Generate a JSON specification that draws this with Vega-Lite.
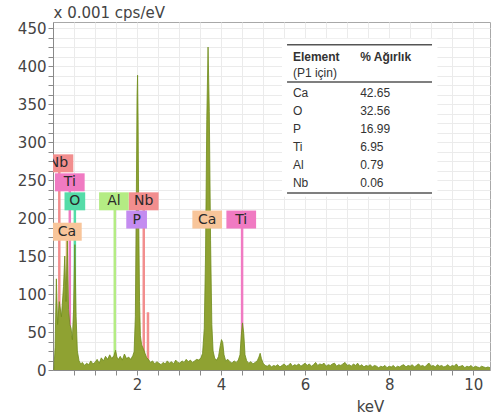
{
  "$schema": "https://vega.github.io/schema/vega-lite/v6.json",
  "width": 437,
  "height": 348,
  "autosize": "none",
  "padding": {"left": 53, "top": 22, "right": 5, "bottom": 49},
  "background": "white",
  "config": {
    "view": {"stroke": "#a8a8a8"},
    "font": "DejaVu Sans",
    "axis": {"labelOverlap": false, "labelFlush": false, "grid": true, "gridColor": "#ebebeb", "gridWidth": 1,
      "domainColor": "#8a8a8a", "tickColor": "#8a8a8a", "tickSize": 5,
      "labelFontSize": 15, "labelColor": "#444", "labelPadding": 2,
      "titleFontSize": 15, "titleFontWeight": "normal", "titleColor": "#444"}
  },
  "datasets": {
    "spectrum": [
      {"e":0.02,"c":0},{"e":0.05,"c":30},{"e":0.08,"c":120},{"e":0.11,"c":60},{"e":0.15,"c":90},{"e":0.2,"c":70},{"e":0.25,"c":110},{"e":0.28,"c":150},{"e":0.31,"c":90},{"e":0.34,"c":170},{"e":0.37,"c":80},{"e":0.4,"c":60},{"e":0.43,"c":55},{"e":0.46,"c":40},{"e":0.49,"c":80},{"e":0.52,"c":165},{"e":0.55,"c":70},{"e":0.58,"c":25},{"e":0.62,"c":12},{"e":0.66,"c":8},{"e":0.7,"c":10},{"e":0.75,"c":6},{"e":0.8,"c":9},{"e":0.85,"c":7},{"e":0.9,"c":12},{"e":0.95,"c":8},
      {"e":1.0,"c":10},{"e":1.05,"c":14},{"e":1.1,"c":9},{"e":1.15,"c":16},{"e":1.2,"c":12},{"e":1.25,"c":18},{"e":1.3,"c":14},{"e":1.35,"c":20},{"e":1.4,"c":15},{"e":1.45,"c":19},{"e":1.49,"c":26},{"e":1.52,"c":17},{"e":1.56,"c":14},{"e":1.6,"c":18},{"e":1.65,"c":13},{"e":1.7,"c":21},{"e":1.75,"c":15},{"e":1.8,"c":17},{"e":1.85,"c":14},{"e":1.9,"c":19},{"e":1.93,"c":24},{"e":1.96,"c":70},{"e":1.98,"c":200},{"e":2.0,"c":360},{"e":2.013,"c":388},{"e":2.025,"c":330},{"e":2.04,"c":200},{"e":2.06,"c":90},{"e":2.08,"c":45},{"e":2.11,"c":33},{"e":2.15,"c":28},{"e":2.19,"c":22},{"e":2.23,"c":16},{"e":2.27,"c":14},{"e":2.32,"c":10},{"e":2.37,"c":12},{"e":2.42,"c":8},{"e":2.47,"c":11},{"e":2.52,"c":9},{"e":2.57,"c":7},{"e":2.62,"c":10},{"e":2.67,"c":8},{"e":2.72,"c":12},{"e":2.77,"c":9},{"e":2.82,"c":11},{"e":2.87,"c":8},{"e":2.92,"c":13},{"e":2.97,"c":10},
      {"e":3.02,"c":9},{"e":3.07,"c":12},{"e":3.12,"c":10},{"e":3.17,"c":14},{"e":3.22,"c":11},{"e":3.27,"c":13},{"e":3.32,"c":10},{"e":3.37,"c":12},{"e":3.42,"c":14},{"e":3.47,"c":13},{"e":3.52,"c":16},{"e":3.56,"c":22},{"e":3.6,"c":55},{"e":3.63,"c":150},{"e":3.66,"c":330},{"e":3.69,"c":425},{"e":3.72,"c":340},{"e":3.75,"c":170},{"e":3.78,"c":60},{"e":3.81,"c":25},{"e":3.85,"c":15},{"e":3.9,"c":13},{"e":3.94,"c":18},{"e":3.98,"c":32},{"e":4.01,"c":40},{"e":4.04,"c":36},{"e":4.07,"c":20},{"e":4.11,"c":12},{"e":4.16,"c":14},{"e":4.21,"c":11},{"e":4.26,"c":9},{"e":4.31,"c":12},{"e":4.36,"c":10},{"e":4.41,"c":13},{"e":4.45,"c":20},{"e":4.48,"c":45},{"e":4.51,"c":62},{"e":4.54,"c":48},{"e":4.57,"c":20},{"e":4.61,"c":12},{"e":4.66,"c":9},{"e":4.71,"c":11},{"e":4.76,"c":8},{"e":4.81,"c":10},{"e":4.86,"c":12},{"e":4.9,"c":17},{"e":4.93,"c":22},{"e":4.96,"c":15},
      {"e":5.0,"c":9},{"e":5.05,"c":6},{"e":5.1,"c":5},{"e":5.15,"c":7},{"e":5.2,"c":4},{"e":5.25,"c":6},{"e":5.3,"c":5},{"e":5.35,"c":7},{"e":5.4,"c":4},{"e":5.45,"c":6},{"e":5.5,"c":8},{"e":5.55,"c":5},{"e":5.6,"c":6},{"e":5.65,"c":9},{"e":5.7,"c":5},{"e":5.75,"c":7},{"e":5.8,"c":6},{"e":5.85,"c":8},{"e":5.9,"c":5},{"e":5.95,"c":7},
      {"e":6.0,"c":9},{"e":6.05,"c":6},{"e":6.1,"c":8},{"e":6.15,"c":5},{"e":6.2,"c":7},{"e":6.25,"c":10},{"e":6.3,"c":6},{"e":6.35,"c":8},{"e":6.4,"c":7},{"e":6.45,"c":9},{"e":6.5,"c":5},{"e":6.55,"c":7},{"e":6.6,"c":6},{"e":6.65,"c":8},{"e":6.7,"c":9},{"e":6.75,"c":5},{"e":6.8,"c":7},{"e":6.85,"c":6},{"e":6.9,"c":8},{"e":6.95,"c":10},
      {"e":7.0,"c":6},{"e":7.05,"c":7},{"e":7.1,"c":5},{"e":7.15,"c":8},{"e":7.2,"c":6},{"e":7.25,"c":9},{"e":7.3,"c":5},{"e":7.35,"c":7},{"e":7.4,"c":4},{"e":7.45,"c":6},{"e":7.5,"c":5},{"e":7.55,"c":7},{"e":7.6,"c":4},{"e":7.65,"c":6},{"e":7.7,"c":5},{"e":7.75,"c":3},{"e":7.8,"c":5},{"e":7.85,"c":4},{"e":7.9,"c":6},{"e":7.95,"c":3},
      {"e":8.0,"c":5},{"e":8.05,"c":4},{"e":8.1,"c":6},{"e":8.15,"c":3},{"e":8.2,"c":5},{"e":8.25,"c":4},{"e":8.3,"c":6},{"e":8.35,"c":7},{"e":8.4,"c":4},{"e":8.45,"c":6},{"e":8.5,"c":5},{"e":8.55,"c":7},{"e":8.6,"c":4},{"e":8.65,"c":6},{"e":8.7,"c":8},{"e":8.75,"c":5},{"e":8.8,"c":6},{"e":8.85,"c":4},{"e":8.9,"c":7},{"e":8.95,"c":9},
      {"e":9.0,"c":5},{"e":9.05,"c":6},{"e":9.1,"c":4},{"e":9.15,"c":7},{"e":9.2,"c":5},{"e":9.25,"c":6},{"e":9.3,"c":4},{"e":9.35,"c":5},{"e":9.4,"c":7},{"e":9.45,"c":4},{"e":9.5,"c":6},{"e":9.55,"c":5},{"e":9.6,"c":8},{"e":9.65,"c":4},{"e":9.7,"c":5},{"e":9.75,"c":6},{"e":9.8,"c":3},{"e":9.85,"c":5},{"e":9.9,"c":4},{"e":9.95,"c":6},
      {"e":10.0,"c":3},{"e":10.05,"c":5},{"e":10.1,"c":4},{"e":10.15,"c":3},{"e":10.2,"c":5},{"e":10.25,"c":4},{"e":10.3,"c":3},{"e":10.35,"c":4},{"e":10.4,"c":3}
    ],
    "lines": [
      {"el":"Nb","e":0.15,"top":272},
      {"el":"Ti","e":0.4,"top":247},
      {"el":"O","e":0.52,"top":222},
      {"el":"Ca","e":0.33,"top":182},
      {"el":"Al","e":1.47,"top":222},
      {"el":"Nb","e":2.16,"top":222},
      {"el":"P","e":2.0,"top":198},
      {"el":"Ca","e":3.67,"top":198},
      {"el":"Ti","e":4.5,"top":198},
      {"el":"Nb","e":2.26,"top":76}
    ],
    "labels": [
      {"el":"Nb","e":0.13,"v":272},
      {"el":"Ti","e":0.4,"v":247},
      {"el":"O","e":0.52,"v":222},
      {"el":"Al","e":1.45,"v":222},
      {"el":"Nb","e":2.16,"v":222},
      {"el":"P","e":1.99,"v":198},
      {"el":"Ca","e":0.33,"v":182},
      {"el":"Ca","e":3.67,"v":198},
      {"el":"Ti","e":4.48,"v":198}
    ],
    "table": [
      {"Element":"Ca","pct":"42.65"},
      {"Element":"O","pct":"32.56"},
      {"Element":"P","pct":"16.99"},
      {"Element":"Ti","pct":"6.95"},
      {"Element":"Al","pct":"0.79"},
      {"Element":"Nb","pct":"0.06"}
    ],
    "one": [{}]
  },
  "layer": [
    {
      "layer": [
        {
          "data": {"name": "lines"},
          "mark": {"type": "rule", "strokeWidth": 2.5, "clip": true},
          "encoding": {
            "x": {"field": "e", "type": "quantitative", "scale": {"domain": [0, 10.4], "nice": false, "zero": false},
              "axis": {
                "values": [0.5,1,1.5,2,2.5,3,3.5,4,4.5,5,5.5,6,6.5,7,7.5,8,8.5,9,9.5,10],
                "tickCount": 100,
                "format": "~g",
                "labelExpr": "datum.value % 2 === 0 ? datum.label : ''",
                "title": "keV",
                "titleX": 317, "titleY": 36, "titleAlign": "center", "titleBaseline": "middle"
              }},
            "y": {"field": "top", "type": "quantitative", "scale": {"domain": [0, 458], "nice": false},
              "axis": {
                "values": [0,12.5,25,37.5,50,62.5,75,87.5,100,112.5,125,137.5,150,162.5,175,187.5,200,212.5,225,237.5,250,262.5,275,287.5,300,312.5,325,337.5,350,362.5,375,387.5,400,412.5,425,437.5,450],
                "tickCount": 100,
                "format": "~g",
                "labelExpr": "datum.value % 50 === 0 ? datum.label : ''",
                "title": "x 0.001 cps/eV",
                "titleAngle": 0, "titleX": 0, "titleY": -5, "titleAlign": "left", "titleBaseline": "alphabetic"
              }},
            "y2": {"datum": 0},
            "color": {"field": "el", "type": "nominal", "legend": null,
              "scale": {"domain": ["Ca","O","P","Ti","Al","Nb"], "range": ["#f8c59a","#55dca8","#c48cf0","#f07ac2","#b4ec84","#f28e8e"]}}
          }
        },
        {
          "data": {"name": "spectrum"},
          "mark": {"type": "area", "color": "#8fa232", "opacity": 1, "clip": true, "line": {"color": "#6f8c1a", "strokeWidth": 0.8}},
          "encoding": {
            "x": {"field": "e", "type": "quantitative"},
            "y": {"field": "c", "type": "quantitative"}
          }
        },
        {
          "data": {"name": "labels"},
          "transform": [{"filter": "length(datum.el) == 2"}],
          "mark": {"type": "point", "shape": "M-1.65,-1H1.65V1H-1.65Z", "filled": true, "opacity": 1, "size": 324, "clip": true},
          "encoding": {
            "x": {"field": "e", "type": "quantitative"},
            "y": {"field": "v", "type": "quantitative"},
            "color": {"field": "el", "type": "nominal", "legend": null}
          }
        },
        {
          "data": {"name": "labels"},
          "transform": [{"filter": "length(datum.el) == 1"}],
          "mark": {"type": "point", "shape": "M-1.15,-1H1.15V1H-1.15Z", "filled": true, "opacity": 1, "size": 324, "clip": true},
          "encoding": {
            "x": {"field": "e", "type": "quantitative"},
            "y": {"field": "v", "type": "quantitative"},
            "color": {"field": "el", "type": "nominal", "legend": null}
          }
        },
        {
          "data": {"name": "labels"},
          "mark": {"type": "text", "fontSize": 14, "color": "#2a2a2a", "baseline": "middle", "align": "center", "clip": true},
          "encoding": {
            "x": {"field": "e", "type": "quantitative"},
            "y": {"field": "v", "type": "quantitative"},
            "text": {"field": "el"}
          }
        },
        {
          "data": {"name": "one"},
          "mark": {"type": "rect", "color": "white"},
          "encoding": {
            "x": {"datum": 5.45}, "x2": {"datum": 9.15},
            "y": {"datum": 436}, "y2": {"datum": 228}
          }
        },
        {
          "data": {"name": "one"},
          "mark": {"type": "rule", "color": "#555", "strokeWidth": 1.5},
          "encoding": {"x": {"datum": 5.57}, "x2": {"datum": 9.02}, "y": {"datum": 428}}
        },
        {
          "data": {"name": "one"},
          "mark": {"type": "rule", "color": "#555", "strokeWidth": 1.5},
          "encoding": {"x": {"datum": 5.57}, "x2": {"datum": 9.02}, "y": {"datum": 379}}
        },
        {
          "data": {"name": "one"},
          "mark": {"type": "rule", "color": "#555", "strokeWidth": 1.5},
          "encoding": {"x": {"datum": 5.57}, "x2": {"datum": 9.02}, "y": {"datum": 233}}
        },
        {
          "data": {"name": "one"},
          "mark": {"type": "text", "text": "Element", "align": "left", "baseline": "middle", "fontWeight": "bold", "fontSize": 12, "font": "Liberation Sans", "color": "#333"},
          "encoding": {"x": {"datum": 5.71}, "y": {"datum": 412}}
        },
        {
          "data": {"name": "one"},
          "mark": {"type": "text", "text": "(P1 için)", "align": "left", "baseline": "middle", "fontSize": 12, "font": "Liberation Sans", "color": "#333"},
          "encoding": {"x": {"datum": 5.71}, "y": {"datum": 391}}
        },
        {
          "data": {"name": "one"},
          "mark": {"type": "text", "text": "% Ağırlık", "align": "left", "baseline": "middle", "fontWeight": "bold", "fontSize": 12, "font": "Liberation Sans", "color": "#333"},
          "encoding": {"x": {"datum": 7.31}, "y": {"datum": 412}}
        }
      ]
    },
    {
      "data": {"name": "table"},
      "layer": [
        {
          "mark": {"type": "text", "align": "left", "baseline": "middle", "fontSize": 12, "font": "Liberation Sans", "color": "#333"},
          "encoding": {
            "x": {"datum": 5.71},
            "y": {"field": "Element", "type": "nominal", "sort": null, "axis": null, "scale": {"type": "point", "range": [71, 161], "padding": 0}},
            "text": {"field": "Element"}
          }
        },
        {
          "mark": {"type": "text", "align": "left", "baseline": "middle", "fontSize": 12, "font": "Liberation Sans", "color": "#333"},
          "encoding": {
            "x": {"datum": 7.31},
            "y": {"field": "Element", "type": "nominal", "sort": null, "axis": null},
            "text": {"field": "pct"}
          }
        }
      ]
    }
  ],
  "resolve": {"scale": {"y": "independent"}}
}
